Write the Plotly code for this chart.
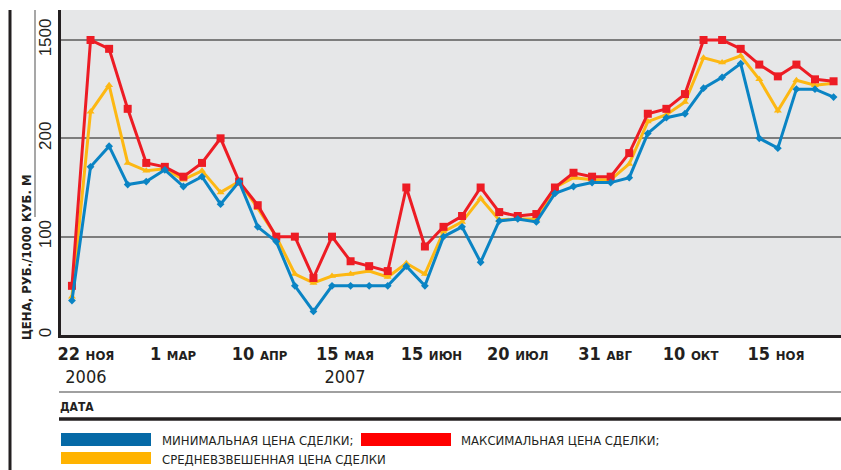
import plotly.graph_objects as go

# ---- data ----
points = list(range(42))
min_price = [35, 171, 192, 153, 156, 168, 151, 161, 133, 156, 110, 95, 50, 24, 50, 50, 50, 50, 70, 50,
             100, 110, 74, 116, 118, 115, 144, 151, 155, 155, 160, 205, 221, 225, 251, 262, 276, 200, 190, 250,
             250, 242]
max_price = [50, 300, 291, 230, 175, 171, 161, 175, 200, 156, 132, 100, 100, 58, 100, 75, 70, 65, 150, 90,
             110, 121, 150, 125, 121, 123, 150, 165, 161, 161, 185, 225, 230, 245, 300, 300, 291, 275, 263, 275,
             260, 258]
avg_price = [39, 227, 254, 175, 167, 169, 158, 167, 145, 156, 129, 100, 62, 53, 60, 62, 65, 59, 73, 62,
             105, 115, 139, 117, 118, 118, 150, 160, 158, 158, 174, 217, 224, 237, 282, 277, 284, 260, 228, 259,
             254, 256]

tick_pos = [0.75, 5.44, 10.1, 14.7, 19.35, 24.0, 28.7, 33.3, 37.9]
tick_day = ["22", "1", "10", "15", "15", "20", "31", "10", "15"]
tick_mon = ["НОЯ", "МАР", "АПР", "МАЯ", "ИЮН", "ИЮЛ", "АВГ", "ОКТ", "НОЯ"]
tick_year = ["2006", "", "", "2007", "", "", "", "", ""]

y_tickvals = [0, 100, 200, 300]
y_ticktext = ["0", "100", "200", "1500"]

series_names = ["МИНИМАЛЬНАЯ ЦЕНА СДЕЛКИ;", "МАКСИМАЛЬНАЯ ЦЕНА СДЕЛКИ;", "СРЕДНЕВЗВЕШЕННАЯ ЦЕНА СДЕЛКИ"]
y_title = "ЦЕНА, РУБ./1000 КУБ. М"
x_title = "ДАТА"

# ---- styling ----
W, H = 841, 470
L, T, B = 61, 10, 135
PW, PH = W - L, H - T - B
COND = "Liberation Sans Narrow, DejaVu Sans Condensed, Roboto Condensed, Arial Narrow, sans-serif"
DARK = "#231F20"
BLUE, RED, YEL = "#0A84C4", "#ED1C24", "#FDB813"
LBLUE, LRED, LYEL = "#0569A6", "#FF0000", "#FFB300"


def px(xp):
    return (xp - L) / PW


def py(yp):
    return (H - B - yp) / PH


ticktext = []
for d, m, yr in zip(tick_day, tick_mon, tick_year):
    t = f"<b>{d} <span style='font-size:13px'>{m}</span></b>"
    t += "<br>" + (yr if yr else " ")
    ticktext.append(t)

fig = go.Figure()
fig.add_trace(go.Scatter(x=points, y=avg_price, mode="lines+markers", name=series_names[2],
                         line=dict(color=YEL, width=3),
                         marker=dict(symbol="triangle-up", size=7, color=YEL)))
fig.add_trace(go.Scatter(x=points, y=max_price, mode="lines+markers", name=series_names[1],
                         line=dict(color=RED, width=3),
                         marker=dict(symbol="square", size=8, color=RED)))
fig.add_trace(go.Scatter(x=points, y=min_price, mode="lines+markers", name=series_names[0],
                         line=dict(color=BLUE, width=3),
                         marker=dict(symbol="diamond", size=6, color=BLUE)))

shapes = [
    # darker 200 gridline
    dict(type="line", xref="paper", yref="y", x0=0, x1=1, y0=200, y1=200,
         line=dict(color="#2a2a2a", width=1.5), layer="below"),
    # outer left thick rule
    dict(type="line", xref="paper", yref="paper", x0=px(10), x1=px(10), y0=1, y1=py(470),
         line=dict(color=DARK, width=3)),
    # thin left rule
    dict(type="line", xref="paper", yref="paper", x0=px(35), x1=px(35), y0=1, y1=py(217),
         line=dict(color="#8a8a8a", width=1.5)),
    # thin rule under years
    dict(type="line", xref="paper", yref="paper", x0=px(59), x1=1, y0=py(392), y1=py(392),
         line=dict(color="#808080", width=1.5)),
    # thick rule under ДАТА
    dict(type="line", xref="paper", yref="paper", x0=px(59), x1=1, y0=py(419), y1=py(419),
         line=dict(color=DARK, width=3.5)),
]

legend_boxes = [
    (LBLUE, 61, 151, 433, 446, 160, 440),
    (LRED, 361, 451, 433, 446, 459, 440),
    (LYEL, 61, 151, 452, 464, 160, 459),
]
annotations = []
for name, (col, x0, x1, y0, y1, tx, ty) in zip(series_names, legend_boxes):
    shapes.append(dict(type="rect", xref="paper", yref="paper", x0=px(x0), x1=px(x1),
                       y0=py(y0), y1=py(y1), fillcolor=col, line=dict(width=0)))
    annotations.append(dict(xref="paper", yref="paper", x=px(tx), y=py(ty), text=name,
                            showarrow=False, xanchor="left", yanchor="middle",
                            font=dict(family=COND, size=13, color=DARK)))

annotations.append(dict(xref="paper", yref="paper", x=px(26), y=py(257), text=f"<b>{y_title}</b>",
                        textangle=-90, showarrow=False, xanchor="center", yanchor="middle",
                        font=dict(family=COND, size=13, color=DARK)))
annotations.append(dict(xref="paper", yref="paper", x=px(58), y=py(407), text=f"<b>{x_title}</b>",
                        showarrow=False, xanchor="left", yanchor="middle",
                        font=dict(family=COND, size=12, color=DARK)))

fig.update_layout(
    width=W, height=H,
    margin=dict(l=L, r=0, t=T, b=B),
    paper_bgcolor="white", plot_bgcolor="#E6E7E8",
    showlegend=False,
    shapes=shapes, annotations=annotations,
    xaxis=dict(range=[-0.59, 41.40], showgrid=False, zeroline=False,
               showline=True, linecolor=DARK, linewidth=3,
               tickmode="array", tickvals=tick_pos, ticktext=ticktext, ticks="",
               tickangle=0, tickfont=dict(family=COND, size=18, color=DARK)),
    yaxis=dict(range=[0, 330.5], showgrid=True, gridcolor="#7d7d7d", gridwidth=1.5, zeroline=False,
               showline=True, linecolor=DARK, linewidth=3,
               tickmode="array", tickvals=y_tickvals, ticktext=y_ticktext, ticks="",
               tickangle=-90, tickfont=dict(family="Liberation Sans, Arial, sans-serif", size=17, color=DARK)),
)

fig.write_html("out.html", config={"displayModeBar": False},
               post_script="document.body.style.margin='0';document.body.style.overflow='hidden';")
